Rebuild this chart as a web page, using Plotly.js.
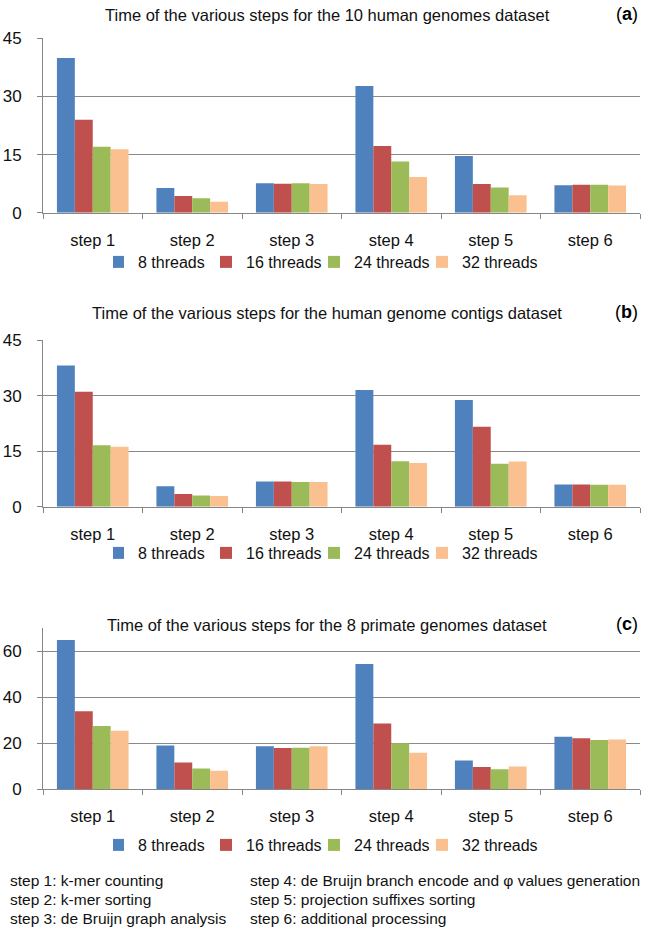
<!DOCTYPE html>
<html><head><meta charset="utf-8">
<script src="https://cdn.plot.ly/plotly-3.0.1.min.js"></script>
<style>html,body{margin:0;padding:0;background:#fff;} #chart{width:646px;height:929px;}</style>
</head><body><div id="chart"></div>
<script>
// ---- data ----
const steps = ['step 1','step 2','step 3','step 4','step 5','step 6'];
const threadLabels = ['8 threads','16 threads','24 threads','32 threads'];

// (a) 10 human genomes dataset
const a8  = [39.9, 6.4, 7.6, 32.7, 14.6, 7.1];
const a16 = [24.0, 4.3, 7.5, 17.2, 7.4, 7.2];
const a24 = [17.0, 3.7, 7.6, 13.2, 6.5, 7.2];
const a32 = [16.4, 2.8, 7.4, 9.2, 4.5, 7.0];
// (b) human genome contigs dataset
const b8  = [38.1, 5.5, 6.8, 31.5, 28.8, 6.0];
const b16 = [31.0, 3.4, 6.8, 16.7, 21.6, 6.0];
const b24 = [16.6, 3.0, 6.7, 12.3, 11.6, 5.9];
const b32 = [16.2, 2.9, 6.7, 11.8, 12.2, 5.9];
// (c) 8 primate genomes dataset
const c8  = [64.9, 19.0, 18.7, 54.5, 12.5, 22.8];
const c16 = [33.9, 11.6, 18.0, 28.6, 9.7, 22.2];
const c24 = [27.5, 9.0, 18.1, 20.0, 8.7, 21.4];
const c32 = [25.5, 8.1, 18.7, 15.9, 9.9, 21.7];

const titles = [
  'Time of the various steps for the 10 human genomes dataset',
  'Time of the various steps for the human genome contigs dataset',
  'Time of the various steps for the 8 primate genomes dataset'
];
const panelTags = ['a','b','c'];
const footerLeft = ['step 1: k-mer counting','step 2: k-mer sorting','step 3: de Bruijn graph analysis'];
const footerRight = ['step 4: de Bruijn branch encode and φ values generation','step 5: projection suffixes sorting','step 6: additional processing'];

// ---- styling / layout ----
const W = 646, H = 929;
const fx = x => x / W;
const fy = y => 1 - y / H;
const colors = ['#4F81BD','#C0504D','#9BBB59','#FAC090'];
const FONT = 'Liberation Sans, Arial, sans-serif';
const axisGray = '#868686';

const panels = [
  {series:[a8,a16,a24,a32], top:38.3, bottom:212.7, range:[0,45], dtick:15, titleY:15.5, legendY:262},
  {series:[b8,b16,b24,b32], top:340, bottom:506.7, range:[0,45], dtick:15, titleY:313, legendY:553},
  {series:[c8,c16,c24,c32], top:628.3, bottom:789.3, range:[0,70], dtick:20, titleY:625, legendY:845}
];

const traces = [];
const layout = {
  width: W, height: H, autosize: false,
  margin: {l:0, r:0, t:0, b:0},
  paper_bgcolor: '#fff', plot_bgcolor: '#fff',
  barmode: 'group', bargap: 0.28, bargroupgap: 0,
  font: {family: FONT, size: 16, color: '#111'},
  showlegend: true,
  annotations: []
};

panels.forEach((p, k) => {
  const sfx = k === 0 ? '' : String(k + 1);
  const legName = 'legend' + sfx;
  p.series.forEach((vals, i) => {
    traces.push({
      type: 'bar', x: steps, y: vals, name: threadLabels[i],
      marker: {color: colors[i], line: {width: 0}},
      xaxis: 'x' + sfx, yaxis: 'y' + sfx, legend: legName,
      hoverinfo: 'y+name'
    });
  });
  layout['xaxis' + sfx] = {
    domain: [fx(43), fx(640)], anchor: 'y' + sfx, type: 'category',
    showline: true, linecolor: axisGray, linewidth: 1,
    ticks: 'outside', tickson: 'boundaries', ticklen: 5, tickcolor: axisGray,
    showgrid: false, zeroline: false, fixedrange: true,
    tickfont: {family: FONT, size: 16.5, color: '#111'}, ticklabelstandoff: 12
  };
  layout['yaxis' + sfx] = {
    domain: [fy(p.bottom), fy(p.top)], anchor: 'x' + sfx,
    range: p.range, tick0: 0, dtick: p.dtick,
    showline: true, linecolor: axisGray, linewidth: 1,
    ticks: 'outside', ticklen: 5, tickcolor: axisGray,
    showgrid: true, gridcolor: '#8a8a8a', gridwidth: 1.2, zeroline: false, fixedrange: true,
    tickfont: {family: FONT, size: 17, color: '#111'}, ticklabelstandoff: 12
  };
  layout[legName] = {
    orientation: 'h', x: fx(329), xanchor: 'center', y: fy(p.legendY), yanchor: 'middle',
    font: {family: FONT, size: 16, color: '#111'}, itemwidth: 30,
    indentation: -15, entrywidth: 78,
    bgcolor: 'rgba(0,0,0,0)', traceorder: 'normal', tracegroupgap: 0
  };
  layout.annotations.push({
    text: titles[k], xref: 'paper', yref: 'paper', x: fx(327), y: fy(p.titleY),
    xanchor: 'center', yanchor: 'middle', showarrow: false,
    font: {family: FONT, size: 16.5, color: '#111'}
  });
  layout.annotations.push({
    text: '(<b>' + panelTags[k] + '</b>)', xref: 'paper', yref: 'paper', x: fx(640), y: fy(p.titleY - 1),
    xanchor: 'right', yanchor: 'middle', showarrow: false,
    font: {family: FONT, size: 18, color: '#000'}
  });
});

const footY = [880, 899, 918];
footerLeft.forEach((t, i) => {
  layout.annotations.push({text: t, xref:'paper', yref:'paper', x: fx(8), y: fy(footY[i]),
    xanchor:'left', yanchor:'middle', showarrow:false, font:{family:FONT, size:15.5, color:'#111'}});
});
footerRight.forEach((t, i) => {
  layout.annotations.push({text: t, xref:'paper', yref:'paper', x: fx(248), y: fy(footY[i]),
    xanchor:'left', yanchor:'middle', showarrow:false, font:{family:FONT, size:15.5, color:'#111'}});
});

Plotly.newPlot('chart', traces, layout, {displayModeBar: false, staticPlot: true});
</script>
</body></html>
